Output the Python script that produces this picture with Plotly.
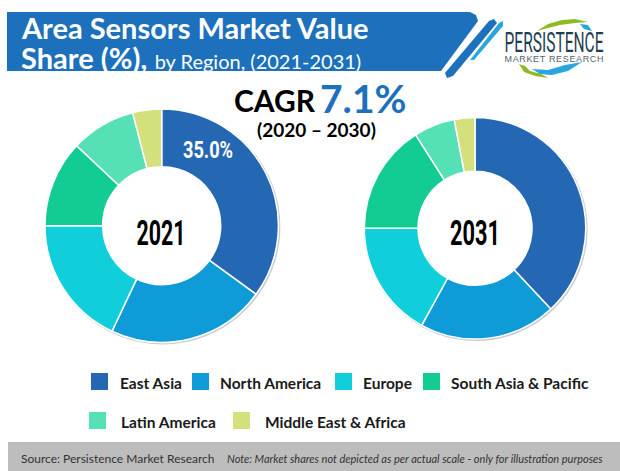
import plotly.graph_objects as go

W = 620
H = 471

regions = ['East Asia', 'North America', 'Europe', 'South Asia & Pacific', 'Latin America', 'Middle East & Africa']
share_2021 = [35, 22, 18, 12, 9, 4]
share_2031 = [38, 20, 17, 16, 6, 3]
colors = ['#2468B4', '#0F9AD8', '#10CEDA', '#12CC94', '#56E0B6', '#D3E07C']

# legend positions in px: square left, square top, text left
legend_pos = [(91, 373, 119), (192, 373, 219), (335, 373, 362), (423, 373, 450),
              (89, 412, 120), (233, 412, 264)]

BODY = 'Lato'
COND = 'Roboto'


def px(x):
    return x / W


def py(y):
    return 1 - y / H


def txt(x, y, s, size, color='black', family=BODY, anchor='left', **box):
    fig.add_annotation(x=px(x), y=py(y), xref='paper', yref='paper', text=s, showarrow=False,
                       xanchor=anchor, yanchor='middle', align=anchor, borderpad=0,
                       font=dict(family=family, size=size, color=color), **box)


def path(x_y, fill):
    d = ''
    for i, (x, y) in enumerate(x_y):
        d += ('M' if i == 0 else 'L') + f'{px(x):.4f},{py(y):.4f} '
    fig.add_shape(type='path', path=d + 'Z', xref='paper', yref='paper', fillcolor=fill, line_width=0)


def donut(vals, cx, cy, r, hole):
    fig.add_trace(go.Pie(labels=regions, values=vals, sort=False, direction='clockwise', rotation=0,
                         hole=hole / r, textinfo='none', showlegend=False,
                         marker=dict(colors=colors, line=dict(color='white', width=1.5)),
                         domain=dict(x=[px(cx - r), px(cx + r)], y=[py(cy + r), py(cy - r)])))


fig = go.Figure()

# faint shadow round the rings
for cx, cy, r in [(162.7, 226.7, 116.7), (476, 229.3, 110.7)]:
    fig.add_shape(type='circle', xref='paper', yref='paper', x0=px(cx - r), x1=px(cx + r),
                  y0=py(cy + r), y1=py(cy - r), line=dict(color='#C9CDD0', width=2), layer='below')

donut(share_2021, 161.7, 225.7, 116.7, 59)
donut(share_2031, 475, 228.3, 110.7, 57)

# title banner
path([(7, 12), (470, 12), (476, 15), (478, 21), (441, 71), (7, 71)], '#1C70BC')
path([(445, 73), (489, 21), (494, 19), (497, 23), (453, 76), (447, 78)], '#1C70BC')
path([(470, 60), (499, 23), (503, 21), (503, 26), (474, 60)], '#2AA5DE')
txt(20, 27.5, '<b>Area Sensors Market Value</b>', 29, 'white', height=28)
txt(20, 57.5, '<b>Share (%),</b> <span style="font-size:20px">by Region, (2021-2031)</span>', 29, 'white', height=32)

# logo
path([(537, 31), (548, 24), (562, 20), (575, 19), (588, 22), (575, 23), (560, 25), (548, 28)], '#8DBB25')
path([(580, 24), (588, 25), (592, 31), (584, 29)], '#2AA5DE')
path([(519, 64), (524, 72), (535, 76), (548, 78), (541, 74), (530, 71), (525, 66)], '#8DBB25')
path([(532, 69), (548, 70), (565, 65), (582, 62), (568, 71), (552, 75), (540, 74)], '#2AA5DE')
txt(554, 43, 'PERSISTENCE', 27, '#1E3E52', COND, 'center', width=100, height=22)
txt(554, 59, 'MARKET RESEARCH', 9, '#55646E', 'Liberation Sans', 'center', width=100, height=10)

# CAGR
txt(233, 100, '<b>CAGR</b>', 30)
txt(319, 98, '<b>7.1%</b>', 39, '#1C70BC')
txt(317, 130, '<b>(2020 – 2030)</b>', 19, 'black', BODY, 'center')

# centre and slice labels
txt(161, 233, '<b>2021</b>', 35, 'black', COND, 'center', width=52)
txt(475, 233, '<b>2031</b>', 35, 'black', COND, 'center', width=52)
txt(208, 151, '<b>35.0%</b>', 23, 'white', COND, 'center', width=52)

# legend
for name, color, (sx, sy, tx) in zip(regions, colors, legend_pos):
    fig.add_shape(type='rect', xref='paper', yref='paper', x0=px(sx), x1=px(sx + 17),
                  y0=py(sy + 17), y1=py(sy), fillcolor=color, line_width=0)
    txt(tx, sy + 9.5, f'<b>{name}</b>', 15.5, '#1a1a1a')

# footer band
fig.add_shape(type='rect', xref='paper', yref='paper', x0=px(8), x1=1, y0=0, y1=py(442),
              fillcolor='#BDBDBD', line_width=0)
txt(20, 458, 'Source: Persistence Market Research', 12, '#333333')
txt(226, 458, '<i>Note: Market shares not depicted as per actual scale - only for illustration purposes</i>',
    11, '#333333')

fig.update_layout(width=W, height=H, margin=dict(l=0, r=0, t=0, b=0),
                  paper_bgcolor='white', plot_bgcolor='white')

# squeeze the condensed labels to the widths in the picture
squeeze = """
document.body.style.margin = '0';
var fit = {'PERSISTENCE': [99, 'spacingAndGlyphs'], 'MARKET RESEARCH': [99, 'spacing'],
           '<b>2021</b>': [49, 'spacingAndGlyphs'], '<b>2031</b>': [50, 'spacingAndGlyphs'],
           '<b>35.0%</b>': [50, 'spacingAndGlyphs']};
document.querySelectorAll('.annotation-text').forEach(function (t) {
  var f = fit[t.getAttribute('data-unformatted')];
  if (f) { t.setAttribute('textLength', f[0]); t.setAttribute('lengthAdjust', f[1]); }
});
"""
fig.write_html("out.html", post_script=squeeze, config=dict(displayModeBar=False))
